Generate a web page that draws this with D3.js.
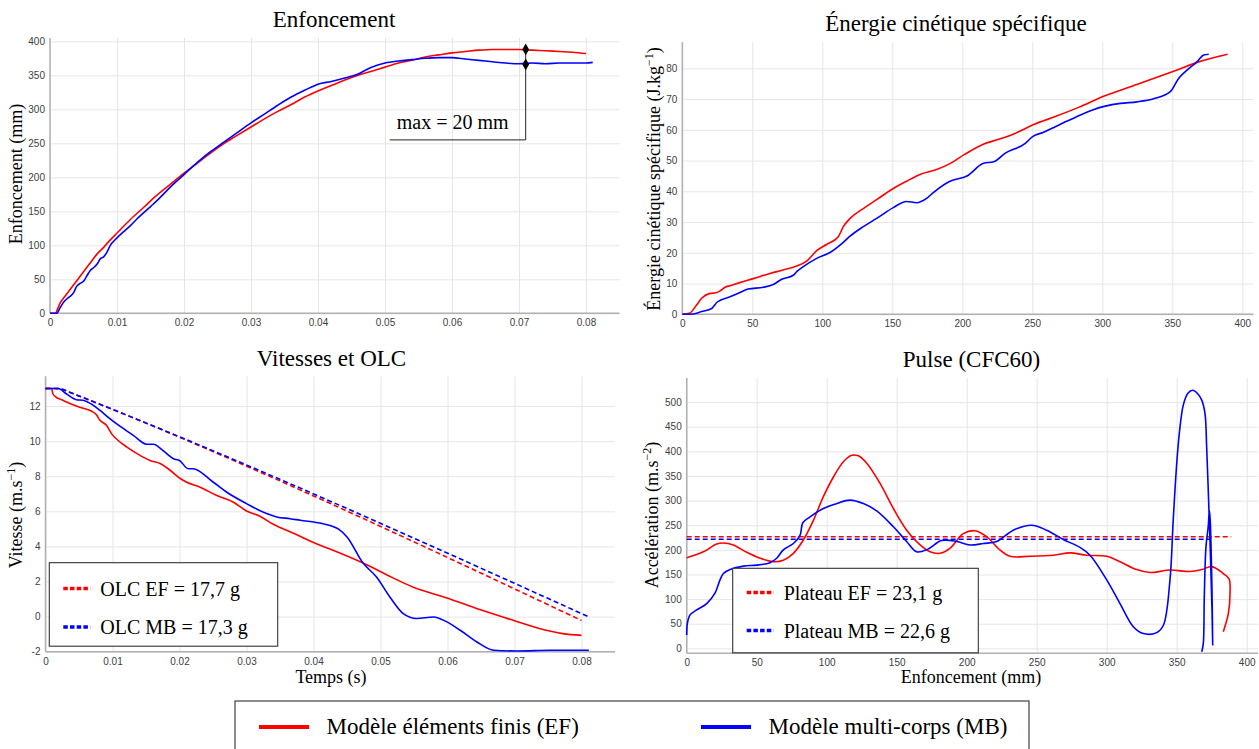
<!DOCTYPE html>
<html>
<head>
<meta charset="utf-8">
<title>Enfoncement, énergie, vitesses et pulse</title>
<script src="https://d3js.org/d3.v7.min.js"></script>
<style>
  body { margin: 0; background: #fff; }
  .serif { font-family: "Liberation Serif", "Times New Roman", serif; fill: #000; }
  .axis text { font-family: "Liberation Sans", Arial, sans-serif; font-size: 10px; fill: #404040; }
  .axis line { stroke: #e6e6e6; stroke-width: 1; }
  .axis path { display: none; }
</style>
</head>
<body>
<div id="my_dataviz"></div>
<script>

// ---- Enfoncement (mm) vs temps (s)
var enfT_EF = [0,0.0008,0.0012,0.0015,0.002,0.003,0.004,0.005,0.006,0.007,0.008,0.009,0.010,
  0.012,0.014,0.016,0.018,0.020,0.022,0.024,0.026,0.028,0.030,0.032,0.034,0.036,0.038,0.040,
  0.042,0.044,0.046,0.048,0.050,0.052,0.054,0.056,0.058,0.060,0.062,0.064,0.066,0.068,0.070,
  0.072,0.074,0.076,0.078,0.080];
var enf_EF = [0,0,8,15,22,35,48,61,74,87,97,108,118,
  138,156,174,190,206,221,236,250,262,274,286,297,307,318,327,
  335,343,350,356,362,368,372,377,380,383,385,387,388,388,388,
  387,386,385,384,382];
var enfT_MB = [0,0.001,0.0015,0.002,0.0025,0.003,0.0035,0.004,0.0045,0.005,0.0055,0.006,0.0065,
  0.007,0.0075,0.008,0.0085,0.009,0.0095,0.010,0.011,0.012,0.013,0.014,0.015,0.016,0.017,0.018,
  0.019,0.020,0.022,0.024,0.026,0.028,0.030,0.032,0.034,0.036,0.038,0.040,0.042,0.044,0.046,
  0.048,0.050,0.052,0.054,0.056,0.058,0.060,0.062,0.064,0.066,0.068,0.070,0.072,0.074,0.076,
  0.078,0.080,0.081];
var enf_MB = [0,0,8,16,21,25,30,40,44,47,55,63,67,
  72,80,83,90,100,106,111,120,129,139,148,157,166,176,186,
  195,204,222,238,252,266,280,293,306,318,328,337,341,346,352,
  362,368,371,373,375,376,376,374,372,370,368,367,368,367,368,
  368,368,369];
// annotation "max = 20 mm"
var maxT = 0.071, maxEF = 388, maxMB = 366, maxLeader = 255, maxLeaderT = 0.0507;

// ---- Énergie cinétique spécifique (J/kg) vs enfoncement (mm)
var ecD_EF = [0,5,10.2,13.8,19.8,24,27,30.5,34,41,50.7,62.6,72,81.7,88.8,96,103,111.4,115,119.8,
  129.3,138.8,149.5,160.2,169.8,181.7,191.2,201.6,215.4,226,237.9,251.4,266.4,283,301.4,321.2,
  351.4,368.8,389.5];
var ec_EF = [0,0.3,3,5.2,6.8,7,7.6,8.8,9.3,10.3,11.6,13.3,14.4,15.7,17.3,20.7,22.7,25.2,28.5,31.2,
  34.4,37.3,40.6,43.3,45.5,47.1,49,52,55.4,56.9,58.9,61.8,64.3,67.3,71,74.2,
  79.1,82.1,84.6];
var ecD_MB = [0,7.9,13.8,21,25,34,41.2,47,57.9,65,71,79.3,81.7,86.4,96,105.5,115,119.8,129.3,138.8,
  150.7,160.2,167.4,174.5,179.3,191.2,203.3,215.2,222.4,230.7,245,250.2,258.1,266.4,273.6,
  281.9,292.6,302.1,312.9,324.8,336.7,348.6,354.5,360.5,367.6,372.4,376];
var ec_MB = [0,0.1,0.9,1.9,4,5.7,7.1,8.2,8.8,9.7,11.4,12.7,13.9,15.5,18.2,20.1,23.4,25.4,28.5,31.2,
  34.7,36.7,36.3,37.7,39.6,43.3,45,49.1,49.6,52.4,55.6,57.8,59.2,61,62.6,
  64.3,66.4,67.7,68.6,69.1,70.1,72.4,76.7,79.4,82.1,84.3,84.6];

// ---- Vitesses (m/s) et OLC vs temps (s)
var vitT_EF = [0,0.0009,0.0011,0.0016,0.0024,0.0039,0.0054,0.0069,0.0076,0.0081,0.0091,0.0099,0.0108,
  0.0121,0.0141,0.0156,0.0171,0.0186,0.0200,0.021,0.023,0.0255,0.028,0.030,0.032,0.034,0.037,
  0.041,0.0429,0.0474,0.0518,0.0548,0.0598,0.0648,0.0698,0.0737,0.0772,0.080];
var vit_EF = [13,13,12.7,12.5,12.36,12.1,11.9,11.7,11.5,11.2,10.9,10.4,10.05,
  9.67,9.19,8.9,8.72,8.34,7.9,7.67,7.39,6.91,6.53,6.02,5.72,5.26,4.75,
  4.06,3.78,3.05,2.22,1.69,1.08,0.4,-0.21,-0.68,-0.97,-1.07];
var vitT_MB = [0,0.0019,0.0031,0.0046,0.0056,0.0069,0.0081,0.0096,0.0111,0.0131,0.0151,0.0161,0.0176,
  0.0191,0.0200,0.0213,0.022,0.025,0.027,0.030,0.033,0.0345,0.0365,0.038,0.0413,0.0438,0.0450,
  0.0474,0.0494,0.0514,0.0534,0.0554,0.0579,0.0599,0.0619,0.0644,0.0669,0.0704,0.0754,0.0811];
var vit_MB = [13,13,12.7,12.36,12.33,12.1,11.76,11.28,10.85,10.33,9.82,9.82,9.44,
  9.0,8.9,8.43,8.43,7.67,7.1,6.44,5.87,5.68,5.58,5.49,5.3,4.97,4.54,
  3.05,2.26,1.12,0.17,-0.11,-0.02,-0.3,-0.78,-1.45,-1.92,-1.96,-1.92,-1.92];
var olcT_EF = [0,0.0015,0.0025,0.0035,0.080];
var olc_EF = [13,13,12.95,12.8,-0.22];
var olcT_MB = [0,0.0015,0.0025,0.0035,0.081];
var olc_MB = [13,13,12.95,12.8,0];
var olcLabels = ["OLC EF = 17,7 g", "OLC MB = 17,3 g"];

// ---- Pulse CFC60 (m/s²) vs enfoncement (mm)
var pulseD_EF = [0,11.9,21.4,26.2,33.3,42.9,52.4,61.9,69,76.2,83.3,90.5,97.6,104.8,111.9,117.9,
  122.6,128.6,138.1,147.6,157.1,166.7,173.8,180.9,188,197.6,205.9,214.2,223.7,230.9,245.2,
  261.9,273.8,285.7,300,309.5,321.4,330.9,345.2,359.5,367.9,375,383.3,387.4,388.1,386.9,383.3];
var pulse_EF = [184,196,212,214,210,195,183,176,179,193,220,260,308,348,379,392,
  391,376,335,284,240,210,196,193,203,233,239,227,200,187,187,
  189,194,189,187,176,160,154,159,156,160,166,152,141,112,71,34];
var pulseD_MB = [0,0.5,2.4,7.1,14.3,20.2,23.8,26.2,31,40.5,50,59.5,64.3,69,76.2,81,82.9,88.1,
  97.6,107.1,116.7,126.2,135.7,147.6,157.1,164.3,172,182,192.9,202.4,211.9,221.4,233.3,246.4,
  257.1,269,280.9,288.1,300,309.5,319,326.2,335.7,340.5,345.2,347.5,350,352,354.7,358,361.4,
  365,367.9,370.2,371.4,372.8,374.2,375.2,375.7,375.3,374.6,373.9,373.3,372.6,370.9,369.7,369,367.9];
var pulse_MB = [27,51,68,78,91,112,139,152,160,167,169,174,183,200,213,230,255,267,
  284,294,301,294,279,247,217,196,201,219,217,210,213,217,240,250,
  240,221,205,189,139,91,44,30,32,47,139,260,375,440,494,518,524,
  517,504,477,409,300,180,80,7,100,200,262,281,250,206,104,10,-7];
var plateauD_EF = [0, 389], plateau_EF = [226.6, 226.6];
var plateauD_MB = [0, 374.5], plateau_MB = [221.7, 221.7];
var plateauLabels = ["Plateau EF = 23,1 g", "Plateau MB = 22,6 g"];

var legendLabels = ["Modèle éléments finis (EF)", "Modèle multi-corps (MB)"];
var RED = "#ff0000", BLUE = "#0000ff";

var width = 1259, height = 749;
var svg = d3.select("#my_dataviz").append("svg")
  .attr("width", width).attr("height", height);

function zip(a, b) { return a.map(function(d, i) { return [d, b[i]]; }); }

// build one panel: grid, tick labels, axis lines; returns the scales
function makePanel(p) {
  var x = d3.scaleLinear().domain(p.xDomain).range([p.left, p.right]);
  var y = d3.scaleLinear().domain(p.yDomain).range([p.bottom, p.top]);
  svg.append("g").attr("class", "axis")
    .attr("transform", "translate(0," + p.bottom + ")")
    .call(d3.axisBottom(x).tickValues(p.xTicks).tickSize(-(p.bottom - p.top))
      .tickPadding(6).tickFormat(p.xFmt));
  svg.append("g").attr("class", "axis")
    .attr("transform", "translate(" + p.left + ",0)")
    .call(d3.axisLeft(y).tickValues(p.yTicks).tickSize(-(p.right - p.left))
      .tickPadding(5).tickFormat(function(d) { return String(d); }));
  svg.append("line").attr("x1", p.left).attr("x2", p.right)
    .attr("y1", p.bottom).attr("y2", p.bottom)
    .attr("stroke", "#b0b0b0").attr("stroke-width", 1.5);
  svg.append("line").attr("x1", p.left).attr("x2", p.left)
    .attr("y1", p.bottom).attr("y2", p.top)
    .attr("stroke", "#b0b0b0").attr("stroke-width", 1.5);
  return { x: x, y: y };
}

function drawLine(sc, xs, ys, color, curve, dash) {
  var line = d3.line().x(function(d) { return sc.x(d[0]); })
    .y(function(d) { return sc.y(d[1]); }).curve(curve);
  svg.append("path").datum(zip(xs, ys))
    .attr("d", line).attr("fill", "none")
    .attr("stroke", color).attr("stroke-width", 1.6)
    .attr("stroke-dasharray", dash || null);
}

function title(txt, cx, by) {
  svg.append("text").attr("class", "serif").attr("x", cx).attr("y", by)
    .attr("text-anchor", "middle").style("font-size", "23px").text(txt);
}

function yLabel(txt, sup, bx, cy) {
  var t = svg.append("text").attr("class", "serif")
    .attr("transform", "translate(" + bx + "," + cy + ") rotate(-90)")
    .attr("text-anchor", "middle").style("font-size", "18px");
  t.append("tspan").text(txt);
  if (sup) {
    t.append("tspan").attr("dy", -7).style("font-size", "12px").text(sup);
    t.append("tspan").attr("dy", 7).text(")");
  }
}

var fmtTime = function(d) { return d === 0 ? "0" : d3.format(".2f")(d); };
var timeTicks = d3.range(0, 0.081, 0.01);
var mmTicks = d3.range(0, 401, 50);

// ---------- Panel 1: Enfoncement
var s1 = makePanel({ left: 50, right: 619.5, bottom: 313.3, top: 37.9,
  xDomain: [0, 0.085], yDomain: [0, 405], xTicks: timeTicks, yTicks: d3.range(0, 401, 50), xFmt: fmtTime });
drawLine(s1, enfT_EF, enf_EF, RED, d3.curveMonotoneX);
drawLine(s1, enfT_MB, enf_MB, BLUE, d3.curveMonotoneX);
title("Enfoncement", 334, 27);
yLabel("Enfoncement (mm)", null, 22, 174);

// annotation
svg.append("path").attr("fill", "none").attr("stroke", "#222").attr("stroke-width", 1)
  .attr("d", "M" + s1.x(maxT) + "," + s1.y(maxEF) + "V" + s1.y(maxLeader) + "H" + s1.x(maxLeaderT));
[maxEF, maxMB].forEach(function(v) {
  svg.append("path").attr("d", d3.symbol().type(d3.symbolDiamond).size(40))
    .attr("transform", "translate(" + s1.x(maxT) + "," + s1.y(v) + ")").attr("fill", "#000");
});
svg.append("text").attr("class", "serif")
  .attr("x", (s1.x(maxT) + s1.x(maxLeaderT)) / 2 - 5).attr("y", s1.y(maxLeader) - 11)
  .attr("text-anchor", "middle").style("font-size", "20px").text("max = 20 mm");

// ---------- Panel 2: Énergie cinétique spécifique
var s2 = makePanel({ left: 682.3, right: 1253.5, bottom: 314.3, top: 42.2,
  xDomain: [0, 408], yDomain: [0, 88.5], xTicks: mmTicks, yTicks: d3.range(0, 81, 10), xFmt: String });
drawLine(s2, ecD_EF, ec_EF, RED, d3.curveMonotoneX);
drawLine(s2, ecD_MB, ec_MB, BLUE, d3.curveMonotoneX);
title("Énergie cinétique spécifique", 956, 30.5);
yLabel("Énergie cinétique spécifique (J.kg", "−1", 660, 179);

// ---------- Panel 3: Vitesses et OLC
var s3 = makePanel({ left: 45.5, right: 615, bottom: 651.7, top: 376.2,
  xDomain: [0, 0.085], yDomain: [-2, 13.7], xTicks: timeTicks, yTicks: d3.range(-2, 13, 2), xFmt: fmtTime });
drawLine(s3, olcT_EF, olc_EF, RED, d3.curveMonotoneX, "5,3");
drawLine(s3, olcT_MB, olc_MB, BLUE, d3.curveMonotoneX, "5,3");
drawLine(s3, vitT_EF, vit_EF, RED, d3.curveMonotoneX);
drawLine(s3, vitT_MB, vit_MB, BLUE, d3.curveMonotoneX);
title("Vitesses et OLC", 331.5, 366);
yLabel("Vitesse (m.s", "−1", 22, 515);
svg.append("text").attr("class", "serif").attr("x", 331).attr("y", 683)
  .attr("text-anchor", "middle").style("font-size", "18px").text("Temps (s)");

// ---------- Panel 4: Pulse (CFC60)
var s4 = makePanel({ left: 686.7, right: 1257.9, bottom: 653.3, top: 378,
  xDomain: [0, 408], yDomain: [-10, 549], xTicks: mmTicks, yTicks: d3.range(0, 501, 50), xFmt: String });
drawLine(s4, plateauD_EF, plateau_EF, RED, d3.curveLinear, "5,3");
drawLine(s4, plateauD_MB, plateau_MB, BLUE, d3.curveLinear, "5,3");
drawLine(s4, pulseD_EF, pulse_EF, RED, d3.curveCatmullRom.alpha(0.5));
drawLine(s4, pulseD_MB, pulse_MB, BLUE, d3.curveCatmullRom.alpha(0.5));
title("Pulse (CFC60)", 971.5, 367);
yLabel("Accélération (m.s", "−2", 658, 515);
svg.append("text").attr("class", "serif").attr("x", 971).attr("y", 683)
  .attr("text-anchor", "middle").style("font-size", "18px").text("Enfoncement (mm)");

// ---------- in-panel legends (dotted)
function dottedLegend(box, items, rows) {
  svg.append("rect").attr("x", box[0]).attr("y", box[1]).attr("width", box[2]).attr("height", box[3])
    .attr("fill", "#fff").attr("stroke", "#333").attr("stroke-width", 1.1);
  items.forEach(function(txt, i) {
    var yy = rows[i];
    svg.append("line").attr("x1", box[0] + 14).attr("x2", box[0] + 41)
      .attr("y1", yy).attr("y2", yy)
      .attr("stroke", i === 0 ? RED : BLUE).attr("stroke-width", 3.5)
      .attr("stroke-dasharray", "4.5,2.2");
    svg.append("text").attr("class", "serif").attr("x", box[0] + 51).attr("y", yy + 7)
      .style("font-size", "20px").text(txt);
  });
}
dottedLegend([49.3, 562.7, 228.4, 83.5], olcLabels, [588.5, 627]);
dottedLegend([732.7, 568.3, 245.6, 84.5], plateauLabels, [592.5, 630.5]);

// ---------- global legend
svg.append("rect").attr("x", 235).attr("y", 701).attr("width", 794).attr("height", 60)
  .attr("fill", "#fff").attr("stroke", "#404040").attr("stroke-width", 1.2);
[[259, RED], [701, BLUE]].forEach(function(d, i) {
  svg.append("line").attr("x1", d[0]).attr("x2", d[0] + 50).attr("y1", 727).attr("y2", 727)
    .attr("stroke", d[1]).attr("stroke-width", 4);
  svg.append("text").attr("class", "serif").attr("x", d[0] + 67.5).attr("y", 734)
    .style("font-size", "23px").text(legendLabels[i]);
});

</script>
</body>
</html>
